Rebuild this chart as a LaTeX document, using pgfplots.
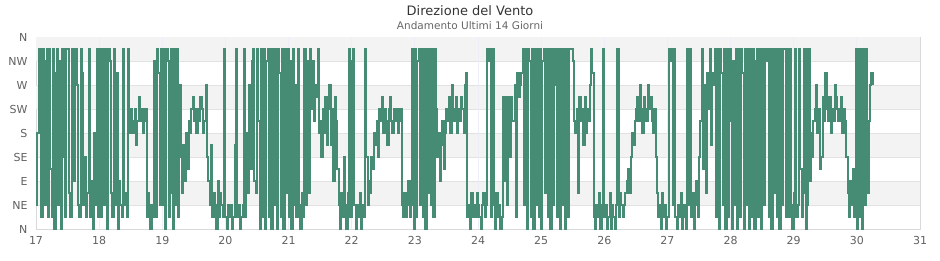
\documentclass[border=0pt]{standalone}
\usepackage{pgfplots}
\pgfplotsset{compat=1.18}
\usepackage{pgfplotstable}
\usepackage{fontspec}
\setmainfont{DejaVu Sans}
\definecolor{linegreen}{HTML}{468B73}
\definecolor{band}{HTML}{F3F3F3}
\definecolor{gridc}{HTML}{E2E2E2}
\definecolor{vgrid}{HTML}{EEEEF8}
\definecolor{framec}{HTML}{D9D9D9}
\definecolor{ticktext}{HTML}{606060}
\definecolor{titlec}{HTML}{333333}
\definecolor{subc}{HTML}{666666}

% wind direction in compass points (0=N, 2=NE, ..., 15=NNW), one sample every 30 minutes
\pgfplotstableread[row sep=\\]{v\\
2\\8\\15\\15\\1\\15\\14\\2\\15\\1\\15\\5\\1\\15\\0\\13\\15\\2\\14\\0\\15\\6\\1\\15\\
15\\3\\1\\15\\9\\4\\15\\12\\2\\1\\15\\13\\
2\\6\\1\\3\\15\\1\\4\\0\\8\\2\\15\\1\\
15\\1\\15\\15\\2\\15\\0\\15\\14\\3\\1\\15\\2\\13\\0\\4\\
2\\1\\15\\2\\3\\1\\15\\8\\
10\\9\\8\\10\\7\\9\\11\\9\\10\\8\\9\\10\\
1\\3\\2\\0\\2\\1\\14\\1\\15\\13\\2\\15\\
2\\15\\0\\15\\14\\1\\3\\15\\0\\15\\2\\15\\1\\12\\
6\\3\\7\\4\\8\\5\\9\\8\\
10\\11\\9\\10\\8\\10\\9\\11\\10\\8\\
9\\12\\6\\4\\2\\7\\1\\3\\2\\0\\4\\1\\3\\2\\1\\15\\
1\\0\\2\\1\\2\\0\\1\\7\\15\\1\\2\\0\\1\\2\\15\\1\\8\\3\\12\\5\\14\\15\\4\\3\\
15\\9\\0\\15\\1\\15\\0\\14\\15\\1\\15\\0\\15\\2\\15\\0\\15\\13\\1\\15\\0\\15\\3\\15\\1\\14\\0\\15\\2\\12\\1\\15\\
2\\0\\3\\1\\15\\2\\14\\3\\
15\\10\\14\\9\\12\\11\\15\\8\\
9\\6\\10\\8\\11\\7\\10\\
12\\7\\10\\4\\11\\9\\5\\
2\\0\\3\\1\\6\\2\\0\\3\\
15\\1\\14\\15\\2\\
0\\2\\1\\3\\0\\2\\1\\
15\\6\\2\\
4\\3\\6\\5\\8\\7\\9\\6\\
10\\9\\11\\8\\10\\9\\7\\10\\11\\9\\8\\10\\9\\10\\8\\9\\10\\
2\\1\\3\\1\\2\\4\\1\\2\\
15\\0\\15\\1\\14\\15\\2\\15\\1\\15\\0\\15\\3\\15\\2\\15\\1\\15\\10\\
6\\8\\4\\7\\9\\5\\8\\
10\\9\\11\\8\\12\\10\\9\\11\\8\\10\\9\\11\\10\\8\\12\\13\\
1\\2\\0\\3\\1\\2\\1\\3\\2\\1\\0\\2\\3\\1\\2\\
15\\14\\15\\1\\15\\
2\\0\\3\\1\\2\\0\\1\\
11\\4\\11\\2\\11\\6\\11\\9\\
9\\12\\1\\13\\11\\12\\13\\
15\\2\\15\\0\\15\\14\\1\\15\\0\\15\\2\\15\\1\\15\\0\\14\\15\\3\\15\\1\\15\\0\\15\\2\\15\\12\\1\\15\\0\\15\\2\\15\\0\\15\\1\\15\\
15\\15\\14\\
9\\8\\10\\3\\11\\9\\10\\7\\11\\8\\10\\9\\12\\
15\\13\\
1\\0\\2\\1\\3\\0\\2\\
15\\1\\
2\\0\\1\\3\\0\\2\\1\\0\\2\\
15\\
1\\3\\2\\1\\2\\3\\
4\\5\\3\\6\\8\\7\\9\\
10\\11\\9\\12\\10\\8\\11\\10\\9\\12\\10\\11\\9\\8\\10\\
6\\3\\1\\2\\0\\3\\1\\2\\0\\1\\
15\\14\\15\\2\\15\\
1\\0\\2\\1\\3\\0\\2\\1\\0\\
15\\2\\15\\
1\\3\\0\\2\\4\\1\\
6\\9\\15\\5\\12\\3\\13\\10\\15\\7\\13\\12\\
15\\1\\15\\0\\15\\13\\2\\15\\0\\15\\1\\15\\9\\0\\14\\2\\15\\0\\15\\1\\15\\13\\0\\15\\2\\15\\0\\15\\1\\15\\0\\14\\15\\1\\15\\0\\15\\2\\15\\14\\15\\1\\15\\0\\15\\3\\15\\1\\15\\0\\15\\2\\15\\15\\1\\15\\
1\\15\\2\\0\\3\\15\\1\\2\\15\\5\\1\\3\\15\\0\\2\\15\\4\\8\\6\\
9\\10\\12\\8\\10\\5\\6\\11\\9\\13\\10\\9\\11\\8\\10\\9\\12\\11\\10\\9\\10\\11\\8\\10\\9\\
6\\3\\1\\4\\2\\5\\1\\
15\\0\\15\\1\\15\\0\\15\\2\\15\\
3\\9\\12\\13\\12\\
}\winddata

\begin{document}
\begin{tikzpicture}
\useasboundingbox (-36pt,-31pt) rectangle (904pt,229pt);
\begin{axis}[
  at={(0pt,0pt)}, anchor=south west,
  scale only axis, width=884pt, height=192pt,
  xmin=0, xmax=672, ymin=0, ymax=16,
  xtick={0,48,...,672},
  xticklabels={17,18,19,20,21,22,23,24,25,26,27,28,29,30,31},
  ytick={0,2,...,16},
  yticklabels={N,NE,E,SE,S,SW,W,NW,N},
  major tick length=0pt, tick style={draw=none},
  axis line style={framec, line width=0.9pt},
  /pgf/number format/assume math mode=true,
  tick label style={font=\fontsize{11}{13}\selectfont, text=ticktext},
  yticklabel style={xshift=-5pt},
  xticklabel style={yshift=-3.5pt},
  clip=true,
]
\fill[band] (axis cs:0,14) rectangle (axis cs:672,16);
\fill[band] (axis cs:0,10) rectangle (axis cs:672,12);
\fill[band] (axis cs:0,6) rectangle (axis cs:672,8);
\fill[band] (axis cs:0,2) rectangle (axis cs:672,4);
\pgfplotsinvokeforeach{2,4,...,14}{\draw[gridc, line width=0.8pt] (axis cs:0,#1) -- (axis cs:672,#1);}
\pgfplotsinvokeforeach{48,96,...,624}{\draw[vgrid, line width=0.8pt] (axis cs:#1,0) -- (axis cs:#1,16);}
\addplot[const plot, draw=linegreen, line width=2pt, mark=none] table[x expr=\coordindex, y=v] {\winddata};
\end{axis}
\node[font=\fontsize{13}{15}\selectfont, text=titlec] at (434pt,218pt) {Direzione del Vento};
\node[font=\fontsize{10.5}{12}\selectfont, text=subc] at (434pt,203pt) {Andamento Ultimi 14 Giorni};
\end{tikzpicture}
\end{document}
